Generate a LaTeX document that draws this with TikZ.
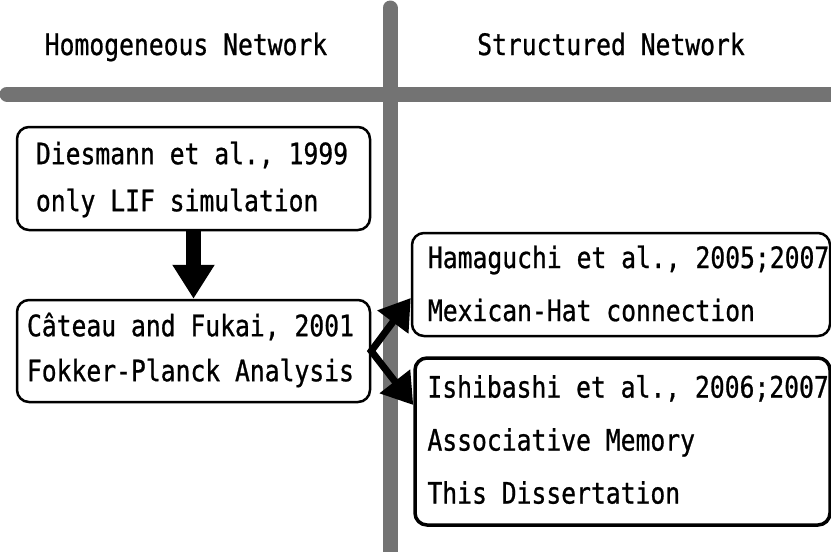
\documentclass[tikz,border=0pt]{standalone}
\usepackage{fontspec}
\setmainfont{DejaVu Sans Mono}[FakeStretch=0.837, FakeBold=0.8]
\usetikzlibrary{arrows.meta}
\newcommand{\netfont}[1]{\fontsize{29.5pt}{#1}\selectfont}

\begin{document}
\begin{tikzpicture}[x=1pt,y=-1pt,
        paper/.style={draw, rounded corners=12pt, line width=2.5pt, inner sep=0pt},
        words/.style={align=left, inner sep=0pt, anchor=west, font={\netfont{#1}}},
        head/.style={font={\netfont{34pt}}, anchor=base},
        bar/.style={line width=15pt, draw=black!55, line cap=round},
        fat/.style={line width=15pt, -{Triangle[width=40pt,length=34pt]}},
        fork/.style={line width=7pt, {Triangle[width=37pt,length=30pt]}-{Triangle[width=37pt,length=30pt]}}]
        \path[use as bounding box, fill=white] (0,0) rectangle (831,552);
        
        \draw[bar] (390,8)--(390,570);
        \draw[bar] (7,94)--(850,94);
        
        \node[head] (homo) at (186,55) {Homogeneous Network};
        \node[head] (struct) at (611,55) {Structured Network};
        
        \node[paper, minimum width=353pt, minimum height=103pt] (dies) at (193.5,178.5) {};
        \node[paper, minimum width=353pt, minimum height=102pt] (cateau) at (193.5,351) {};
        \node[paper, minimum width=418pt, minimum height=103pt] (hama) at (621,284.5) {};
        \node[paper, line width=3.5pt, minimum width=415pt, minimum height=167pt] (ishi) at (622.5,441.5) {};
        
        \node[words=47pt] (diestext) at ([xshift=20pt,yshift=-1pt]dies.west) {Diesmann et al., 1999\\only LIF simulation};
        \node[words=45pt] (cateautext) at ([xshift=11pt,yshift=1pt]cateau.west) {C\^ateau and Fukai, 2001\\Fokker-Planck Analysis};
        \node[words=53pt] (hamatext) at ([xshift=17pt,yshift=1pt]hama.west) {Hamaguchi et al., 2005;2007\\Mexican-Hat connection};
        \node[words=53pt] (ishitext) at ([xshift=14pt,yshift=2pt]ishi.west) {Ishibashi et al., 2006;2007\\Associative Memory\\This Dissertation};
        
        \draw[fat] (dies.south)--(cateau.north);
        \draw[fork] ([yshift=-13.5pt]hama.west)--(cateau.east)--([yshift=36.5pt]ishi.west);
    \end{tikzpicture}
\end{document}
